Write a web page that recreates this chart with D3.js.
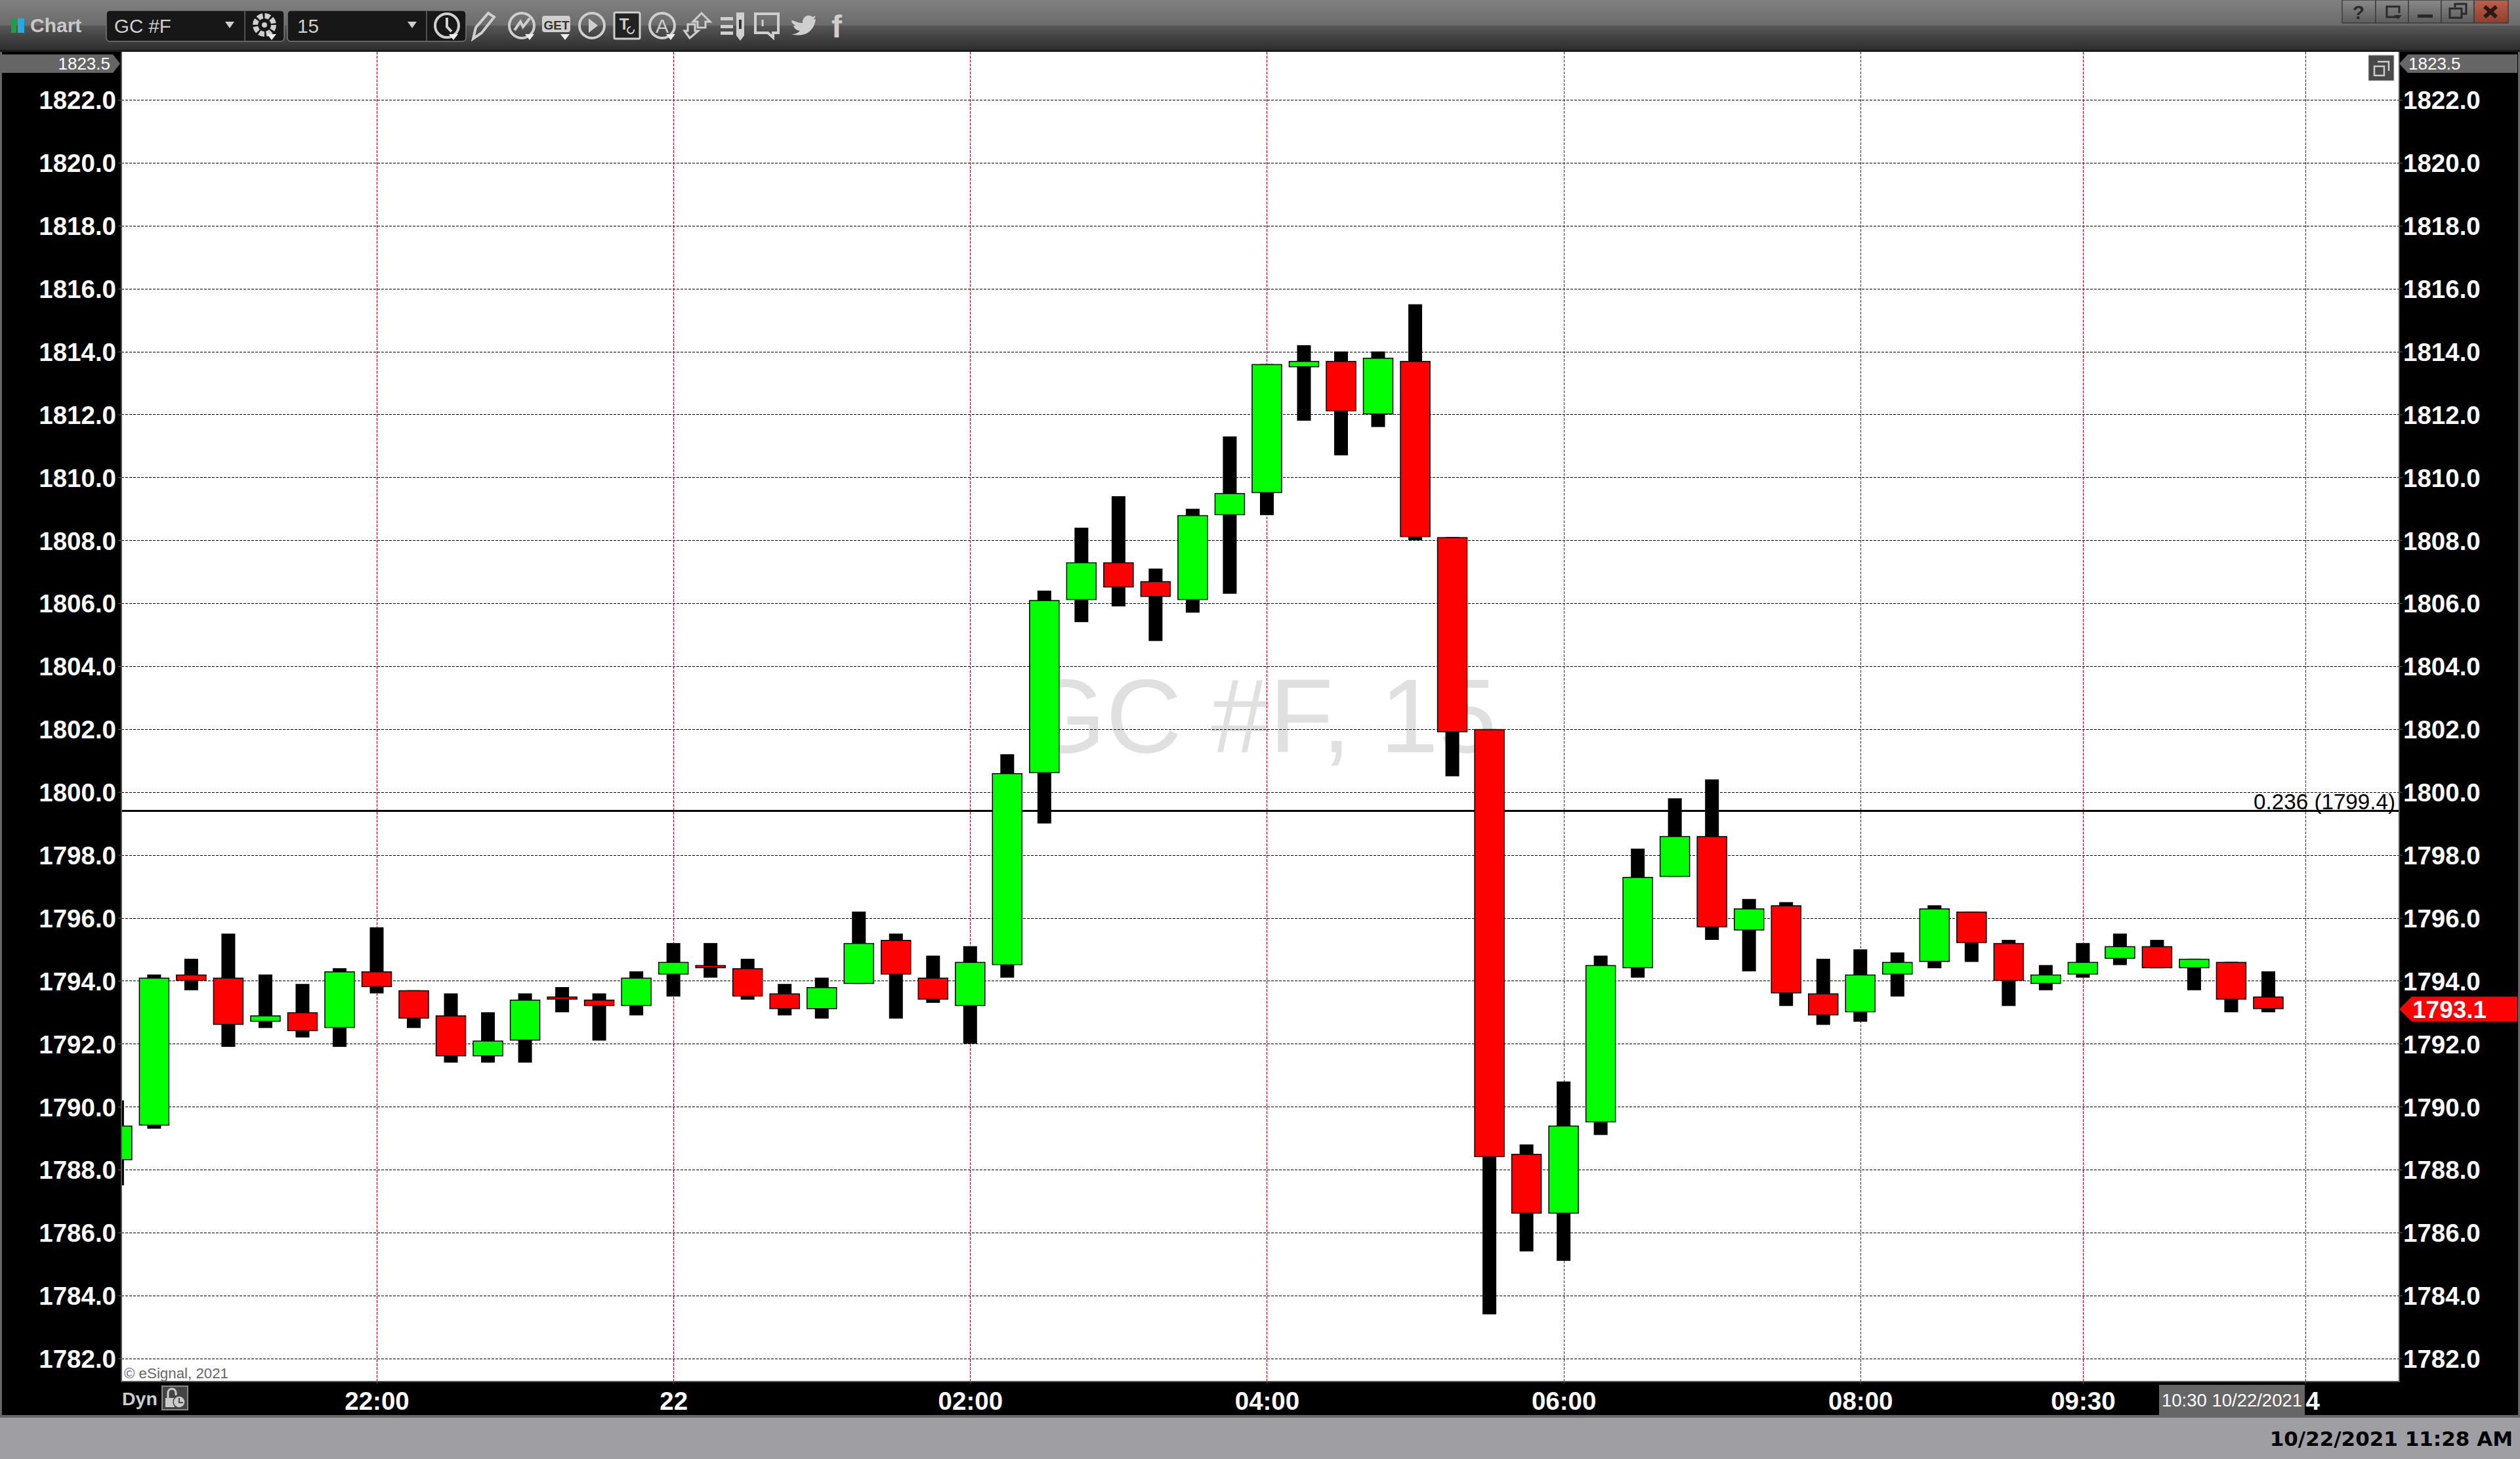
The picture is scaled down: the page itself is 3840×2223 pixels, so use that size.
<!DOCTYPE html>
<html>
<head>
<meta charset="utf-8">
<title>GC #F, 15</title>
<script src="https://cdnjs.cloudflare.com/ajax/libs/d3/7.8.5/d3.min.js"></script>
<style>
  html, body { margin: 0; padding: 0; background: #000; overflow: hidden; }
  svg { display: block; }
  text { font-family: "Liberation Sans", Arial, sans-serif; }
  .axis text { font-size: 38.5px; font-weight: bold; fill: #fff; }
  .axis path { display: none; }
  .axis line { stroke: #666; stroke-width: 1; }
</style>
</head>
<body>
<div id="chart"></div>
<script>
/* global d3 */

// 15 minute bars, oldest first
var opens = [
  1788.3, 1789.4, 1794.2, 1794.1, 1792.7, 1793.0, 1792.5, 1794.3, 1793.7, 1792.9,
  1791.6, 1792.1, 1793.5, 1793.4, 1793.2, 1794.2, 1794.5, 1794.4, 1793.6, 1793.1,
  1793.9, 1795.3, 1794.1, 1793.2, 1794.5, 1800.6, 1806.1, 1807.3, 1806.7, 1806.1,
  1808.8, 1809.5, 1813.5, 1813.7, 1812.0, 1813.7, 1808.1, 1802.0, 1788.5, 1786.6,
  1789.5, 1794.4, 1797.3, 1798.6, 1795.6, 1796.4, 1793.6, 1793.0, 1794.2, 1794.6,
  1796.2, 1795.2, 1793.9, 1794.2, 1794.7, 1795.1, 1794.4, 1794.6, 1793.5
];
var highs = [
  1790.2, 1794.2, 1794.7, 1795.5, 1794.2, 1793.9, 1794.4, 1795.7, 1793.7, 1793.6,
  1793.0, 1793.6, 1793.8, 1793.6, 1794.3, 1795.2, 1795.2, 1794.7, 1793.9, 1794.1,
  1796.2, 1795.5, 1794.8, 1795.1, 1801.2, 1806.4, 1808.4, 1809.4, 1807.1, 1809.0,
  1811.3, 1813.6, 1814.2, 1814.0, 1814.0, 1815.5, 1808.1, 1802.0, 1788.8, 1790.8,
  1794.8, 1798.2, 1799.8, 1800.4, 1796.6, 1796.5, 1794.7, 1795.0, 1794.9, 1796.4,
  1796.2, 1795.3, 1794.5, 1795.2, 1795.5, 1795.3, 1794.7, 1794.6, 1794.3
];
var lows = [
  1787.5, 1789.3, 1793.7, 1791.9, 1792.5, 1792.2, 1791.9, 1793.6, 1792.5, 1791.4,
  1791.4, 1791.4, 1793.0, 1792.1, 1792.9, 1793.5, 1794.1, 1793.4, 1792.9, 1792.8,
  1793.9, 1792.8, 1793.3, 1792.0, 1794.1, 1799.0, 1805.4, 1805.9, 1804.8, 1805.7,
  1806.3, 1808.8, 1811.8, 1810.7, 1811.6, 1808.0, 1800.5, 1783.4, 1785.4, 1785.1,
  1789.1, 1794.1, 1797.3, 1795.3, 1794.3, 1793.2, 1792.6, 1792.7, 1793.5, 1794.4,
  1794.6, 1793.2, 1793.7, 1794.1, 1794.5, 1794.4, 1793.7, 1793.0, 1793.0
];
var closes = [
  1789.4, 1794.1, 1794.0, 1792.6, 1792.9, 1792.4, 1794.3, 1793.8, 1792.8, 1791.6,
  1792.1, 1793.4, 1793.4, 1793.2, 1794.1, 1794.6, 1794.4, 1793.5, 1793.1, 1793.8,
  1795.2, 1794.2, 1793.4, 1794.6, 1800.6, 1806.1, 1807.3, 1806.5, 1806.2, 1808.8,
  1809.5, 1813.6, 1813.7, 1812.1, 1813.8, 1808.1, 1801.9, 1788.4, 1786.6, 1789.4,
  1794.5, 1797.3, 1798.6, 1795.7, 1796.3, 1793.6, 1792.9, 1794.2, 1794.6, 1796.3,
  1795.2, 1794.0, 1794.2, 1794.6, 1795.1, 1794.4, 1794.7, 1793.4, 1793.1
];

var priceTicks = [
  1782, 1784, 1786, 1788, 1790, 1792, 1794, 1796, 1798, 1800, 1802,
  1804, 1806, 1808, 1810, 1812, 1814, 1816, 1818, 1820, 1822
];
var timeTickBars = [ 7, 15, 23, 31, 39, 47, 53, 59 ];
var timeTickLabels = [ "22:00", "22", "02:00", "04:00", "06:00", "08:00", "09:30", "4" ];

var topPrice = 1823.5;
var lastPrice = 1793.1;
var fibLevel = 1799.4;
var fibLabel = "0.236 (1799.4)";
var cursorLabel = "10:30 10/22/2021";

var width = 3840,
  height = 2223,
  plot = { left: 185, right: 3656, top: 79, bottom: 2105 },
  bodyWidth = 46.5,
  bodyStroke = 1.5,
  wickWidth = 21;

var x = d3.scaleLinear().domain( [ 7, 59 ] ).range( [ 574, 3513 ] );
var y = d3.scaleLinear().domain( [ 1782, 1822 ] ).range( [ 2069.7, 152 ] );

var svg = d3.select( "#chart" ).append( "svg" )
  .attr( "width", width )
  .attr( "height", height );

var defs = svg.append( "defs" );

function gradient( id, stops ) {
  var g = defs.append( "linearGradient" )
    .attr( "id", id )
    .attr( "x1", 0 ).attr( "y1", 0 ).attr( "x2", 0 ).attr( "y2", 1 );
  stops.forEach( function( s, i ) {
    g.append( "stop" ).attr( "offset", i / ( stops.length - 1 ) ).attr( "stop-color", s );
  } );
}
gradient( "barTop", [ "#808080", "#6b6b6b" ] );
gradient( "barBottom", [ "#565656", "#2e2e2e" ] );
gradient( "btn", [ "#8a8a8a", "#5c5c5c" ] );
gradient( "btnClose", [ "#c0604c", "#8e3e2e" ] );

defs.append( "clipPath" ).attr( "id", "plotClip" )
  .append( "rect" )
  .attr( "x", plot.left )
  .attr( "y", plot.top )
  .attr( "width", plot.right - plot.left )
  .attr( "height", plot.bottom - plot.top );

// window frame
svg.append( "rect" ).attr( "width", width ).attr( "height", height ).style( "fill", "#000" );
svg.append( "rect" ).attr( "x", 0 ).attr( "y", 2156 ).attr( "width", width ).attr( "height", 5 ).style( "fill", "#666" );
svg.append( "rect" ).attr( "x", 0 ).attr( "y", 2160 ).attr( "width", width ).attr( "height", 63 ).style( "fill", "#9f9ea3" );
svg.append( "rect" ).attr( "x", 0 ).attr( "y", 79 ).attr( "width", 3 ).attr( "height", 2080 ).style( "fill", "#666" );
svg.append( "rect" ).attr( "x", 3837 ).attr( "y", 79 ).attr( "width", 3 ).attr( "height", 2080 ).style( "fill", "#666" );

svg.append( "rect" ).attr( "width", width ).attr( "height", 39 ).style( "fill", "url(#barTop)" );
svg.append( "rect" ).attr( "y", 39 ).attr( "width", width ).attr( "height", 37 ).style( "fill", "url(#barBottom)" );
svg.append( "rect" ).attr( "y", 76 ).attr( "width", width ).attr( "height", 3 ).style( "fill", "#1c1c1c" );

drawToolbar();

// plot area
svg.append( "rect" )
  .attr( "x", plot.left )
  .attr( "y", plot.top )
  .attr( "width", plot.right - plot.left )
  .attr( "height", plot.bottom - plot.top )
  .style( "fill", "#fff" );

var g = svg.append( "g" ).attr( "clip-path", "url(#plotClip)" );

g.append( "text" )
  .attr( "x", 2281 )
  .attr( "y", 1146 )
  .attr( "text-anchor", "end" )
  .style( "font-size", "160px" )
  .style( "fill", "#e0e0e0" )
  .text( "GC #F, 15" );

g.selectAll( ".grid-h" )
  .data( priceTicks )
  .enter().append( "line" )
    .attr( "class", "grid-h" )
    .attr( "x1", plot.left )
    .attr( "x2", plot.right )
    .attr( "y1", d => Math.round( y( d ) ) + 0.5 )
    .attr( "y2", d => Math.round( y( d ) ) + 0.5 )
    .style( "stroke", "#000" )
    .style( "stroke-width", 1 )
    .style( "stroke-dasharray", "4 2" );

g.selectAll( ".grid-v" )
  .data( timeTickBars )
  .enter().append( "line" )
    .attr( "class", "grid-v" )
    .attr( "x1", d => Math.round( x( d ) ) + 0.5 )
    .attr( "x2", d => Math.round( x( d ) ) + 0.5 )
    .attr( "y1", plot.top )
    .attr( "y2", plot.bottom )
    .style( "stroke", "#a80018" )
    .style( "stroke-width", 1 )
    .style( "stroke-dasharray", "4 2" );

g.append( "line" )
  .attr( "x1", plot.left )
  .attr( "x2", plot.right )
  .attr( "y1", y( fibLevel ) )
  .attr( "y2", y( fibLevel ) )
  .style( "stroke", "#000" )
  .style( "stroke-width", 3 );

g.append( "text" )
  .attr( "x", 3650 )
  .attr( "y", y( fibLevel ) - 3 )
  .attr( "text-anchor", "end" )
  .style( "font-size", "33.2px" )
  .style( "fill", "#000" )
  .text( fibLabel );

// candles
var bars = g.selectAll( ".bar" )
  .data( opens )
  .enter().append( "g" )
    .attr( "class", "bar" );

bars.append( "rect" )
  .attr( "x", ( d, i ) => x( i ) - wickWidth / 2 )
  .attr( "y", ( d, i ) => y( highs[ i ] ) )
  .attr( "width", wickWidth )
  .attr( "height", ( d, i ) => y( lows[ i ] ) - y( highs[ i ] ) )
  .style( "fill", "#000" );

// outline stays inside the body edges
bars.append( "rect" )
  .attr( "x", ( d, i ) => x( i ) - bodyWidth / 2 + bodyStroke / 2 )
  .attr( "y", ( d, i ) => y( Math.max( d, closes[ i ] ) ) + bodyStroke / 2 )
  .attr( "width", bodyWidth - bodyStroke )
  .attr( "height", ( d, i ) => Math.max( Math.abs( y( d ) - y( closes[ i ] ) ) - bodyStroke, 0.5 ) )
  .style( "fill", ( d, i ) => closes[ i ] >= d ? "#00ff00" : "#ff0000" )
  .style( "stroke", "#000" )
  .style( "stroke-width", bodyStroke );

g.append( "text" )
  .attr( "x", 189 )
  .attr( "y", 2100 )
  .style( "font-size", "22.3px" )
  .style( "fill", "#666" )
  .text( "\u00a9 eSignal, 2021" );

// plot edges
svg.append( "path" )
  .attr( "d", "M" + plot.left + "," + plot.top + "V" + plot.bottom + "H" + plot.right + "V" + plot.top )
  .style( "fill", "none" )
  .style( "stroke", "#555" )
  .style( "stroke-width", 2 );

drawRestoreIcon( 3609, 84 );

// axes
var fmt = d3.format( ".1f" );

svg.append( "g" )
  .attr( "class", "axis" )
  .attr( "transform", "translate(" + plot.left + ",0)" )
  .call( d3.axisLeft( y ).tickValues( priceTicks ).tickFormat( fmt ).tickSize( 5 ).tickPadding( 3 ) );

svg.append( "g" )
  .attr( "class", "axis" )
  .attr( "transform", "translate(" + plot.right + ",0)" )
  .call( d3.axisRight( y ).tickValues( priceTicks ).tickFormat( fmt ).tickSize( 5 ).tickPadding( 1 ) );

var xAxis = svg.append( "g" )
  .attr( "class", "axis" )
  .attr( "transform", "translate(0," + plot.bottom + ")" )
  .call( d3.axisBottom( x ).tickValues( timeTickBars )
    .tickFormat( ( d, i ) => timeTickLabels[ i ] ).tickSize( 3 ).tickPadding( 13 ) );

// the last label sits half under the cursor tag in the original
xAxis.selectAll( ".tick" ).filter( d => d === 59 ).select( "text" )
  .attr( "text-anchor", "start" );

svg.selectAll( ".axis text" ).filter( function() { return this.getAttribute( "dy" ) === "0.32em"; } )
  .attr( "dy", "0.36em" );

// cursor date tag
svg.append( "rect" ).attr( "x", 3290 ).attr( "y", 2110 ).attr( "width", 222 ).attr( "height", 46 ).style( "fill", "#666" );
svg.append( "text" )
  .attr( "x", 3401 )
  .attr( "y", 2143 )
  .attr( "text-anchor", "middle" )
  .style( "font-size", "27.5px" )
  .style( "fill", "#fff" )
  .text( cursorLabel );

// price tags on the axes
svg.append( "path" )
  .attr( "d", "M3,83H172L183,97L172,111H3Z" )
  .style( "fill", "#666" );
svg.append( "text" )
  .attr( "x", 168 )
  .attr( "y", 106 )
  .attr( "text-anchor", "end" )
  .style( "font-size", "26px" )
  .style( "fill", "#fff" )
  .text( fmt( topPrice ) );

svg.append( "path" )
  .attr( "d", "M3656,97L3669,83H3836V111H3669Z" )
  .style( "fill", "#666" );
svg.append( "text" )
  .attr( "x", 3670 )
  .attr( "y", 106 )
  .style( "font-size", "26px" )
  .style( "fill", "#fff" )
  .text( fmt( topPrice ) );

var lastY = y( lastPrice );
svg.append( "path" )
  .attr( "d", "M3656," + lastY + "L3675," + ( lastY - 19 ) + "H3836V" + ( lastY + 19 ) + "H3675Z" )
  .style( "fill", "#ff0000" );
svg.append( "text" )
  .attr( "x", 3676 )
  .attr( "y", lastY + 13.5 )
  .style( "font-size", "37px" )
  .style( "font-weight", "bold" )
  .style( "fill", "#fff" )
  .text( fmt( lastPrice ) );

// bottom strip
svg.append( "text" )
  .attr( "x", 186 )
  .attr( "y", 2141 )
  .style( "font-size", "28.5px" )
  .style( "font-weight", "bold" )
  .style( "fill", "#ccc" )
  .text( "Dyn" );

svg.append( "rect" )
  .attr( "x", 247 ).attr( "y", 2112 ).attr( "width", 39 ).attr( "height", 36 )
  .style( "fill", "#444" ).style( "stroke", "#888" ).style( "stroke-width", 2 );
svg.append( "path" )
  .attr( "d", "M256,2130V2122a6,6 0 0 1 12,0V2126" )
  .style( "fill", "none" ).style( "stroke", "#ccc" ).style( "stroke-width", 3 );
svg.append( "rect" ).attr( "x", 252 ).attr( "y", 2130 ).attr( "width", 14 ).attr( "height", 14 ).style( "fill", "#ccc" );
svg.append( "circle" ).attr( "cx", 273 ).attr( "cy", 2136 ).attr( "r", 9 )
  .style( "fill", "#ccc" ).style( "stroke", "#444" ).style( "stroke-width", 1.5 );
svg.append( "path" ).attr( "d", "M273,2130V2137H279" ).style( "fill", "none" ).style( "stroke", "#444" ).style( "stroke-width", 2 );

svg.append( "text" )
  .attr( "x", 3829 )
  .attr( "y", 2203 )
  .attr( "text-anchor", "end" )
  .style( "font-family", "'DejaVu Sans', sans-serif" )
  .style( "font-size", "31px" )
  .style( "font-weight", "bold" )
  .style( "fill", "#000" )
  .text( "10/22/2021 11:28 AM" );

function drawRestoreIcon( px, py ) {
  var ic = svg.append( "g" ).attr( "transform", "translate(" + px + "," + py + ")" );
  ic.append( "rect" ).attr( "width", 39 ).attr( "height", 39 )
    .style( "fill", "#484848" ).style( "stroke", "#ccc" ).style( "stroke-width", 1 );
  ic.append( "path" ).attr( "d", "M14,10H31V24" )
    .style( "fill", "none" ).style( "stroke", "#ccc" ).style( "stroke-width", 2.5 );
  ic.append( "rect" ).attr( "x", 9 ).attr( "y", 17 ).attr( "width", 15 ).attr( "height", 14 )
    .style( "fill", "none" ).style( "stroke", "#ccc" ).style( "stroke-width", 2.5 );
}

function drawToolbar() {
  var bar = svg.append( "g" );
  var ink = "#cfcfcf";

  bar.append( "rect" ).attr( "x", 17 ).attr( "y", 28 ).attr( "width", 8 ).attr( "height", 22 ).style( "fill", "#1f9e4a" );
  bar.append( "rect" ).attr( "x", 27 ).attr( "y", 28 ).attr( "width", 10 ).attr( "height", 22 ).style( "fill", "#2aa8e0" );
  bar.append( "text" )
    .attr( "x", 46 ).attr( "y", 49 )
    .style( "font-size", "30px" ).style( "font-weight", "bold" ).style( "fill", "#c8c8c8" )
    .text( "Chart" );

  // symbol and interval boxes
  [ [ 162, 271, 373, "GC #F", 174, 350 ], [ 438, 272, 650, "15", 453, 628 ] ].forEach( function( b ) {
    bar.append( "rect" )
      .attr( "x", b[ 0 ] ).attr( "y", 16 ).attr( "width", b[ 1 ] ).attr( "height", 47 ).attr( "rx", 5 )
      .style( "fill", "#171717" ).style( "stroke", "#777" ).style( "stroke-width", 1.5 );
    bar.append( "line" )
      .attr( "x1", b[ 2 ] ).attr( "x2", b[ 2 ] ).attr( "y1", 16 ).attr( "y2", 63 )
      .style( "stroke", "#666" ).style( "stroke-width", 1.5 );
    bar.append( "text" )
      .attr( "x", b[ 4 ] ).attr( "y", 50 )
      .style( "font-size", "29.5px" ).style( "fill", ink )
      .text( b[ 3 ] );
    bar.append( "path" )
      .attr( "d", "M" + ( b[ 5 ] - 7 ) + ",33h14l-7,10Z" )
      .style( "fill", ink );
  } );

  function ring( cx, r ) {
    bar.append( "circle" )
      .attr( "cx", cx ).attr( "cy", 39 ).attr( "r", r || 19 )
      .style( "fill", "none" ).style( "stroke", ink ).style( "stroke-width", 4 );
  }
  function dropArrow( cx ) {
    bar.append( "path" ).attr( "d", "M" + ( cx - 7 ) + ",52h14l-7,9Z" ).style( "fill", "#eee" );
  }
  function stroke( d, w ) {
    bar.append( "path" ).attr( "d", d ).style( "fill", "none" ).style( "stroke", ink ).style( "stroke-width", w || 4 );
  }
  function solid( d ) {
    bar.append( "path" ).attr( "d", d ).style( "fill", ink );
  }
  function label( tx, cx, ty, size, weight, fill ) {
    bar.append( "text" )
      .attr( "x", cx ).attr( "y", ty )
      .attr( "text-anchor", "middle" )
      .style( "font-size", size + "px" )
      .style( "font-weight", weight || "normal" )
      .style( "fill", fill || ink )
      .text( tx );
  }

  // gear
  bar.append( "circle" ).attr( "cx", 403 ).attr( "cy", 38 ).attr( "r", 14 )
    .style( "fill", "none" ).style( "stroke", ink ).style( "stroke-width", 8 ).style( "stroke-dasharray", "8 3" );
  bar.append( "circle" ).attr( "cx", 403 ).attr( "cy", 38 ).attr( "r", 4 ).style( "fill", ink );
  dropArrow( 414 );

  // clock
  ring( 681, 18 );
  stroke( "M681,27V41L688,48" );
  dropArrow( 691 );

  // pencil
  stroke( "M721,59L725,42L744,20L753,26L734,50Z" );

  // study
  ring( 795 );
  stroke( "M784,46L793,33L797,41L807,28" );
  dropArrow( 807 );

  // GET
  bar.append( "rect" ).attr( "x", 826 ).attr( "y", 24 ).attr( "width", 43 ).attr( "height", 25 ).attr( "rx", 4 ).style( "fill", ink );
  label( "GET", 848, 45, 19, "bold", "#333" );
  dropArrow( 861 );

  // play
  ring( 902 );
  solid( "M897,28L911,39L897,50Z" );

  // text box
  bar.append( "rect" ).attr( "x", 936 ).attr( "y", 19 ).attr( "width", 39 ).attr( "height", 40 ).attr( "rx", 2 )
    .style( "fill", "#222" ).style( "stroke", ink ).style( "stroke-width", 3 );
  label( "T", 951, 45, 24, "bold" );
  stroke( "M966,45a5,5 0 1 1 -5,-4", 2 );

  // alert
  ring( 1009 );
  label( "A", 1009, 50, 30, "normal" );
  dropArrow( 1022 );

  // up and down arrows
  stroke( "M1069,20L1082,33H1075V42H1063V33H1056Z", 3 );
  stroke( "M1051,58L1043,47H1048V37H1059V47H1064Z", 3 );

  // list with pencil
  solid( "M1098,26h19v5h-19zM1098,38h19v5h-19zM1098,48h19v5h-19z" );
  bar.append( "path" ).attr( "d", "M1122,19h12v35l-6,8l-6,-8Z" ).style( "fill", ink );
  bar.append( "rect" ).attr( "x", 1126 ).attr( "y", 30 ).attr( "width", 4 ).attr( "height", 14 ).style( "fill", "#333" );

  // speech bubble
  stroke( "M1151,21H1186V50H1178V57L1170,50H1151Z" );
  bar.append( "line" ).attr( "x1", 1162 ).attr( "x2", 1162 ).attr( "y1", 30 ).attr( "y2", 40 )
    .style( "stroke", ink ).style( "stroke-width", 3 );

  // twitter and facebook
  solid( "M1204,28C1212,34 1218,35 1223,35C1222,26 1232,20 1238,26L1243,24L1240,30L1243,29C1241,46 1228,58 1206,52C1212,52 1216,50 1219,47C1213,46 1210,43 1209,39L1213,39C1208,37 1206,34 1206,31L1210,32C1206,30 1204,28 1204,28Z" );
  label( "f", 1275, 57, 48, "bold" );

  // window buttons
  var buttons = [ 3569, 3620, 3670, 3720, 3770 ];
  buttons.forEach( function( bx, i ) {
    var w = ( i < 4 ? buttons[ i + 1 ] : 3822 ) - bx;
    bar.append( "rect" )
      .attr( "x", bx ).attr( "y", 0 ).attr( "width", w ).attr( "height", 35 )
      .style( "fill", i === 4 ? "url(#btnClose)" : "url(#btn)" )
      .style( "stroke", "#3c3c3c" ).style( "stroke-width", 1.5 );
  } );
  label( "?", 3594, 29, 30, "bold", "#2a2a2a" );
  bar.append( "path" ).attr( "d", "M3657,26H3637V10H3656V20" )
    .style( "fill", "none" ).style( "stroke", "#2a2a2a" ).style( "stroke-width", 3 );
  bar.append( "path" ).attr( "d", "M3648,23h12l-6,6Z" ).style( "fill", "#2a2a2a" );
  bar.append( "rect" ).attr( "x", 3684 ).attr( "y", 22 ).attr( "width", 23 ).attr( "height", 5 ).style( "fill", "#2a2a2a" );
  bar.append( "path" ).attr( "d", "M3741,11V6H3758V21H3752" )
    .style( "fill", "none" ).style( "stroke", "#2a2a2a" ).style( "stroke-width", 3 );
  bar.append( "rect" ).attr( "x", 3733 ).attr( "y", 13 ).attr( "width", 18 ).attr( "height", 14 )
    .style( "fill", "none" ).style( "stroke", "#2a2a2a" ).style( "stroke-width", 3 );
  bar.append( "path" ).attr( "d", "M3786,10L3804,26M3804,10L3786,26" )
    .style( "fill", "none" ).style( "stroke", "#2a1a14" ).style( "stroke-width", 6 );
}
</script>
</body>
</html>
